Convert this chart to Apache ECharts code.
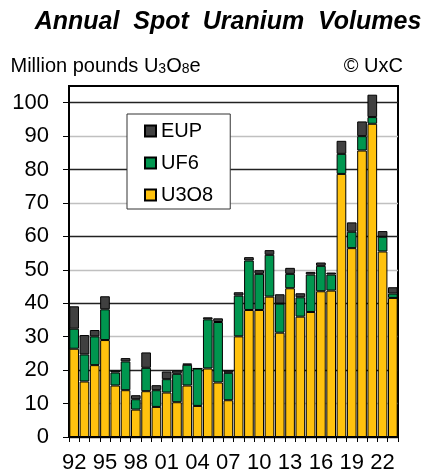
<!DOCTYPE html>
<html>
<head>
<meta charset="utf-8">
<script src="https://cdn.jsdelivr.net/npm/echarts@6/dist/echarts.min.js"></script>
<style>
html,body{margin:0;padding:0;background:#fff;}
#chart{width:422px;height:474px;}
</style>
</head>
<body>
<div id="chart"></div>
<script>
const years = ['92','93','94','95','96','97','98','99','00','01','02','03','04','05','06','07','08','09','10','11','12','13','14','15','16','17','18','19','20','21','22','23'];
const u3o8 = [26.4,16.6,21.5,29.0,15.4,14.0,8.2,13.7,9.0,13.3,10.4,15.4,9.3,20.5,16.3,11.0,30.1,38.0,38.0,42.0,31.2,44.5,36.0,37.4,43.6,43.8,78.7,56.5,85.7,93.7,55.5,41.6];
const uf6 = [6.0,8.1,8.6,9.2,3.9,8.6,3.1,7.0,5.0,4.0,8.5,6.2,11.2,14.7,18.1,8.2,12.2,14.8,10.8,12.5,8.7,4.3,5.8,11.2,7.6,4.8,6.0,4.9,4.3,2.0,4.4,1.3];
const eup = [6.7,5.8,1.9,3.9,0.6,1.0,1.2,4.6,1.5,2.3,1.0,0.4,0,0.6,1.1,0.7,1.0,1.0,1.1,1.4,2.8,1.8,1.2,0.8,1.0,0.6,3.9,2.8,4.4,6.7,1.7,1.9];
const yTicks = [0,10,20,30,40,50,60,70,80,90,100];

const FONT = 'Liberation Sans, Arial, sans-serif';
const chart = echarts.init(document.getElementById('chart'), null, {renderer:'canvas'});
const barBase = {type:'bar', stack:'total', barCategoryGap:'6%', itemStyle:{borderColor:'#000', borderWidth:1}, emphasis:{disabled:true}};
chart.setOption({
  animation:false,
  backgroundColor:'#fff',
  textStyle:{fontFamily:FONT},
  graphic:[
    {type:'text', x:228, y:22.5, style:{text:'Annual  Spot  Uranium  Volumes', font:'italic bold 25px '+FONT, fill:'#000', align:'center', verticalAlign:'middle'}},
    {type:'text', x:10.5, y:66, style:{text:'Million pounds U{s|3}O{s|8}e', font:'20px '+FONT, fill:'#000', align:'left', verticalAlign:'middle', rich:{s:{fontSize:14, fontFamily:FONT, verticalAlign:'bottom'}}}},
    {type:'text', x:403, y:66, style:{text:'© UxC', font:'20px '+FONT, fill:'#000', align:'right', verticalAlign:'middle'}}
  ],
  legend:{
    data:['EUP','UF6','U3O8'],
    orient:'vertical', left:127, top:114,
    padding:[7,17,4,17], itemGap:12, itemWidth:11, itemHeight:11,
    backgroundColor:'#fff', borderColor:'#333', borderWidth:1,
    icon:'rect',
    textStyle:{fontSize:20, color:'#000', fontFamily:FONT},
    selectedMode:false
  },
  grid:{left:69, right:24, top:86, bottom:34, show:true, borderColor:'#000', borderWidth:2, backgroundColor:'transparent'},
  xAxis:{
    type:'category', data:years,
    axisLine:{lineStyle:{color:'#000', width:2}},
    axisTick:{show:true, length:5, interval:0, lineStyle:{color:'#000', width:1}},
    axisLabel:{interval:2, fontSize:22, color:'#000', margin:15, fontFamily:FONT}
  },
  yAxis:{
    type:'value', min:0, max:105, interval:5,
    axisLine:{show:true, lineStyle:{color:'#000', width:2}},
    axisTick:{show:true, length:6, customValues:yTicks, lineStyle:{color:'#000', width:1}},
    axisLabel:{customValues:yTicks, fontSize:22, color:'#000', margin:20, fontFamily:FONT,
      formatter:function(v){return v % 10 === 0 && v <= 100 ? String(v) : '';}},
    splitLine:{show:true, lineStyle:{color:['#222','#c0c0c0'], width:1.3}}
  },
  series:[
    Object.assign({name:'U3O8', data:u3o8, color:'#FFC20E'}, barBase),
    Object.assign({name:'UF6', data:uf6, color:'#00964F'}, barBase),
    Object.assign({name:'EUP', data:eup, color:'#404040'}, barBase)
  ]
});
</script>
</body>
</html>
